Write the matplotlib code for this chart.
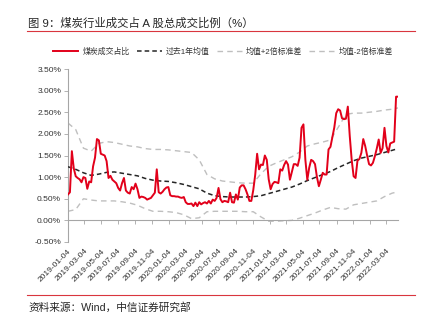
import datetime as dt
import matplotlib
matplotlib.use("Agg")
import matplotlib.pyplot as plt
import matplotlib.dates as mdates
from matplotlib.lines import Line2D

plt.rcParams["font.family"] = ["Liberation Sans", "Noto Sans CJK SC", "DejaVu Sans"]

# weekly share of coal turnover in total A-share turnover (%)
start = dt.date(2019, 1, 4)
share = [
    0.60, 0.65, 1.60, 1.20, 1.02, 0.98, 0.95, 0.88, 1.00, 0.98,
    0.73, 0.90, 0.88, 1.25, 1.45, 1.88, 1.85, 1.54, 1.52, 1.50,
    1.37, 0.98, 1.03, 0.94, 0.90, 0.86, 0.75, 0.69, 0.86, 0.98,
    0.69, 0.64, 0.62, 0.77, 0.72, 0.85, 0.72, 0.52, 0.55, 0.54,
    0.52, 0.48, 0.50, 0.52, 0.58, 0.64, 1.18, 0.65, 0.62, 0.66,
    0.72, 0.76, 0.77, 0.58, 0.56, 0.56, 0.55, 0.55, 0.53, 0.52,
    0.54, 0.42, 0.38, 0.38, 0.39, 0.33, 0.41, 0.33, 0.42, 0.37,
    0.40, 0.42, 0.39, 0.45, 0.39, 0.48, 0.45, 0.52, 0.75, 0.49,
    0.42, 0.45, 0.44, 0.42, 0.64, 0.42, 0.41, 0.60, 0.48, 0.76,
    0.81, 0.81, 0.72, 0.60, 0.45, 0.45, 0.70, 1.05, 1.54, 1.18,
    1.29, 1.28, 1.50, 1.40, 0.95, 0.72, 0.84, 0.89, 0.88, 0.86,
    1.18, 1.15, 1.28, 1.37, 1.29, 0.94, 1.12, 1.30, 1.30, 1.26,
    1.45, 2.14, 2.22, 1.40, 0.94, 1.22, 1.40, 1.37, 1.30, 1.00,
    0.79, 0.94, 1.10, 1.06, 1.06, 1.64, 1.70, 1.92, 2.15, 2.48,
    2.57, 2.54, 2.36, 2.34, 2.35, 2.63, 1.95, 1.40, 1.02, 0.98,
    1.38, 1.42, 1.56, 1.88, 1.72, 1.50, 1.30, 1.27, 1.33, 1.48,
    1.66, 1.87, 1.56, 1.67, 2.14, 1.72, 1.57, 1.78, 1.80, 1.82,
    2.86, 2.86,
]
dates = [start + dt.timedelta(weeks=i) for i in range(len(share))]

# rolling 1y mean and +/- 2 std bands, read every 4 weeks
band_weeks = list(range(0, 169, 4)) + [171]
mean_1y = [
    1.24, 1.18, 1.10, 1.04, 1.07, 1.11, 1.12, 1.09, 1.06, 1.03,
    0.97, 0.93, 0.91, 0.90, 0.87, 0.83, 0.78, 0.73, 0.63, 0.57,
    0.55, 0.54, 0.54, 0.54, 0.55, 0.57, 0.62, 0.67, 0.72, 0.77,
    0.84, 0.92, 0.99, 1.06, 1.13, 1.22, 1.30, 1.38, 1.44, 1.48,
    1.52, 1.57, 1.62, 1.66,
]
upper = [
    2.25, 2.10, 1.67, 1.60, 1.78, 1.82, 1.80, 1.76, 1.72, 1.70,
    1.66, 1.64, 1.64, 1.63, 1.61, 1.59, 1.57, 1.40, 1.06, 0.96,
    0.91, 0.89, 0.87, 0.86, 0.86, 1.08, 1.25, 1.33, 1.40, 1.47,
    1.58, 1.72, 1.77, 1.81, 1.86, 2.15, 2.45, 2.48, 2.48, 2.50,
    2.52, 2.55, 2.57, 2.60,
]
lower = [
    0.21, 0.25, 0.50, 0.47, 0.45, 0.45, 0.45, 0.43, 0.40, 0.35,
    0.27, 0.21, 0.21, 0.20, 0.18, 0.13, 0.04, 0.06, 0.20, 0.21,
    0.21, 0.21, 0.21, 0.20, 0.20, 0.08, -0.02, -0.02, -0.01, 0.00,
    0.05, 0.11, 0.17, 0.24, 0.30, 0.27, 0.26, 0.36, 0.39, 0.42,
    0.45, 0.55, 0.63, 0.66,
]
band_dates = [start + dt.timedelta(weeks=w) for w in band_weeks]

tick_labels = [
    "2019-01-04", "2019-03-04", "2019-05-04", "2019-07-04", "2019-09-04",
    "2019-11-04", "2020-01-04", "2020-03-04", "2020-05-04", "2020-07-04",
    "2020-09-04", "2020-11-04", "2021-01-04", "2021-03-04", "2021-05-04",
    "2021-07-04", "2021-09-04", "2021-11-04", "2022-01-04", "2022-03-04",
]
tick_dates = [dt.datetime.strptime(s, "%Y-%m-%d").date() for s in tick_labels]

red = "#E2001A"
axis_gray = "#A6A6A6"

fig = plt.figure(figsize=(4.29, 3.28), dpi=100)
ax = fig.add_axes([68 / 429, 1 - 242 / 328, 330 / 429, 173 / 328])

ax.plot(dates, share, color=red, lw=1.4, label="煤炭成交占比", zorder=4)
ax.plot(band_dates, mean_1y, color="#262626", lw=1.1, ls=(0, (3, 2)), label="过去1年均值", zorder=3)
ax.plot(band_dates, upper, color="#BFBFBF", lw=1.0, ls=(0, (4, 3)), label="均值+2倍标准差")
ax.plot(band_dates, lower, color="#BFBFBF", lw=1.0, ls=(0, (4, 3)), label="均值-2倍标准差")

ax.set_ylim(-0.5, 3.5)
ax.set_yticks([-0.5, 0, 0.5, 1.0, 1.5, 2.0, 2.5, 3.0, 3.5])
ax.set_yticklabels([f"{v:.2f}%" for v in ax.get_yticks()])
ax.set_xlim(dates[0], dates[-1])

for s in ["top", "right"]:
    ax.spines[s].set_visible(False)
ax.spines["left"].set_color(axis_gray)
ax.spines["left"].set_linewidth(0.8)
ax.spines["bottom"].set_position(("data", 0))
ax.spines["bottom"].set_color(axis_gray)
ax.spines["bottom"].set_linewidth(0.8)
ax.set_xticks(mdates.date2num(tick_dates))
ax.tick_params(axis="x", labelbottom=False, length=3, width=0.6, color=axis_gray)
ax.tick_params(axis="y", length=3, width=0.6, color=axis_gray, labelsize=6, labelcolor="#333333", pad=2)

# date labels sit at the bottom of the plot, below the zero axis
sec = ax.secondary_xaxis("bottom")
sec.spines["bottom"].set_visible(False)
sec.set_xticks(mdates.date2num(tick_dates))
sec.set_xticklabels(tick_labels, rotation=45, ha="right", rotation_mode="anchor")
sec.tick_params(length=0, labelsize=6, labelcolor="#333333", pad=4)

fig.legend(loc="center", bbox_to_anchor=(223 / 429, 1 - 52 / 328), ncol=4, frameon=False,
           fontsize=5.7, handlelength=3.2, handletextpad=0.5, columnspacing=0.9,
           labelcolor="#333333")

fig.text(28 / 429, 1 - 23 / 328, "图 9：煤炭行业成交占 A 股总成交比例（%）", fontsize=8.2,
         va="center", ha="left", color="#262626")
fig.add_artist(Line2D([27 / 429, 415 / 429], [1 - 30.5 / 328] * 2, color="#D9363E", lw=0.8))
fig.add_artist(Line2D([27 / 429, 415 / 429], [1 - 295 / 328] * 2, color="#D9363E", lw=0.8))
fig.text(28 / 429, 1 - 307 / 328, "资料来源：Wind，中信证券研究部", fontsize=7.7,
         va="center", ha="left", color="#262626")

fig.savefig("out.png", dpi=100)
